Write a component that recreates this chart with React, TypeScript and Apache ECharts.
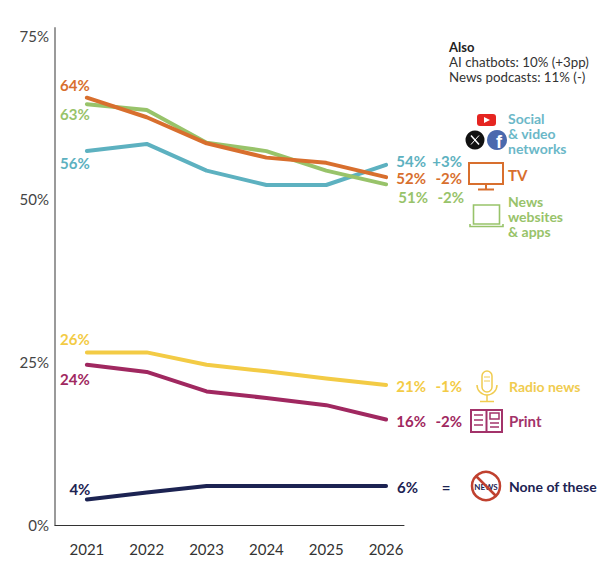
import React, { useEffect, useRef } from "react";
import * as echarts from "echarts";

const years = [2021, 2022, 2023, 2024, 2025, 2026];
const yTicks = [0, 25, 50, 75];

const tvValues = [65.6, 62.6, 58.6, 56.4, 55.6, 53.4];
const webValues = [64.6, 63.7, 58.7, 57.4, 54.4, 52.3];
const socialValues = [57.4, 58.5, 54.4, 52.2, 52.2, 55.3];
const radioValues = [26.5, 26.5, 24.6, 23.6, 22.5, 21.5];
const printValues = [24.6, 23.5, 20.5, 19.5, 18.4, 16.2];
const noneValues = [3.9, 5.0, 6.0, 6.0, 6.0, 6.0];

const seriesNames = ["TV", "News websites & apps", "Social & video networks", "Radio news", "Print", "None of these"];
const startLabels = ["64%", "63%", "56%", "26%", "24%", "4%"];
const endLabels = ["52%", "51%", "54%", "21%", "16%", "6%"];
const changeLabels = ["-2%", "-2%", "+3%", "-1%", "-2%", "="];
const legendTexts = ["TV", "News\nwebsites\n& apps", "Social\n& video\nnetworks", "Radio news", "Print", "None of these"];
const alsoTitle = "Also";
const alsoLines = ["AI chatbots: 10% (+3pp)", "News podcasts: 11% (-)"];

const FONT = "Lato, 'Noto Sans', sans-serif";
const colors = ["#D86F2E", "#98C36A", "#5DB1C0", "#F3CB45", "#A02860", "#1C2352"];
const legendColors = ["#D86F2E", "#98C36A", "#6BB8C8", "#F0CC50", "#A3336A", "#1C2352"];

const allValues = [tvValues, webValues, socialValues, radioValues, printValues, noneValues];
const startOffsets: number[][] = [[-12, -13], [-12, 10], [-12, 12], [-12, -13], [-12, 14], [-7, -11]];
const endOffsets: number[][] = [[3, 1], [5, 13], [3, -4], [3, 1], [3, 2], [3, 1]];

function buildSeries() {
  return allValues.map((vals, i) => {
    const color = colors[i];
    const last = vals.length - 1;
    const changeStyle = changeLabels[i] === "=" ? "e" : "c";
    const base = { color, fontFamily: FONT, fontSize: 15, fontWeight: "bold", lineHeight: 13 };
    return {
      type: "line",
      name: seriesNames[i],
      symbol: "circle",
      symbolSize: 2,
      showSymbol: true,
      z: 10 - i,
      itemStyle: { color },
      lineStyle: { color, width: 4, cap: "round", join: "round" },
      data: vals.map((v, j) => {
        const item: any = { value: [years[j], v] };
        if (j === 0) {
          item.label = {
            show: true,
            position: "inside",
            offset: startOffsets[i],
            align: "center",
            verticalAlign: "middle",
            formatter: startLabels[i],
            ...base,
          };
        } else if (j === last) {
          item.label = {
            show: true,
            position: "inside",
            offset: endOffsets[i],
            align: "left",
            verticalAlign: "middle",
            formatter: `{v|${endLabels[i]}}{${changeStyle}|${changeLabels[i]}}`,
            lineHeight: 13,
            rich: {
              v: { width: 37, align: "right", ...base },
              c: { width: 36, align: "right", ...base },
              e: { width: 40, align: "center", ...base },
            },
          };
        } else {
          item.label = { show: false };
        }
        return item;
      }),
    };
  });
}

function txt(x: number, y: number, text: string, fill: string, size: number, weight: string, lineHeight?: number) {
  return {
    type: "text",
    x,
    y,
    z: 100,
    style: {
      text,
      fill,
      fontFamily: FONT,
      fontSize: size,
      fontWeight: weight,
      lineHeight: lineHeight || size + 2,
      textAlign: "left",
      textVerticalAlign: "middle",
      align: "left",
      verticalAlign: "middle",
    },
  };
}

function buildGraphics() {
  const [tv, web, social, radio, print, none] = legendColors;
  const sw = 2;
  const LS = 14;
  return [
    // Also box
    txt(449, 47, alsoTitle, "#222", 13, "bold"),
    txt(449, 62, alsoLines[0], "#333", 13.3, "normal"),
    txt(449, 77, alsoLines[1], "#333", 13.3, "normal"),

    // Social icons
    { type: "rect", shape: { x: 477, y: 114, width: 19, height: 12, r: 3 }, style: { fill: "#E52521" } },
    { type: "polygon", shape: { points: [[484, 117], [484, 123], [490, 120]] }, style: { fill: "#fff" } },
    { type: "circle", shape: { cx: 475, cy: 140, r: 9.5 }, style: { fill: "#111" } },
    { type: "line", shape: { x1: 471, y1: 135.5, x2: 479, y2: 144.5 }, style: { stroke: "#fff", lineWidth: 1.5 } },
    { type: "line", shape: { x1: 479, y1: 135.5, x2: 471, y2: 144.5 }, style: { stroke: "#fff", lineWidth: 1 } },
    { type: "circle", shape: { cx: 497, cy: 140, r: 10 }, style: { fill: "#4A69AE" } },
    {
      type: "text", x: 499, y: 151, z: 100,
      style: { text: "f", fill: "#fff", fontFamily: "Arial, 'Liberation Sans', sans-serif", fontSize: 18, fontWeight: "bold", textAlign: "center", textVerticalAlign: "bottom", align: "center", verticalAlign: "bottom" },
    },
    txt(508, 118, "Social", social, LS, "bold", 15),
    txt(508, 133, "& video", social, LS, "bold", 15),
    txt(508, 148, "networks", social, LS, "bold", 15),

    // TV icon
    { type: "rect", shape: { x: 469, y: 163, width: 34, height: 21 }, style: { fill: "none", stroke: tv, lineWidth: sw } },
    { type: "line", shape: { x1: 486, y1: 184, x2: 486, y2: 189 }, style: { stroke: tv, lineWidth: sw } },
    { type: "line", shape: { x1: 478, y1: 189.5, x2: 494, y2: 189.5 }, style: { stroke: tv, lineWidth: sw } },
    txt(508, 175, legendTexts[0], tv, 15, "bold"),

    // Laptop icon
    { type: "rect", shape: { x: 473.5, y: 205, width: 26, height: 19 }, style: { fill: "none", stroke: web, lineWidth: 1.6 } },
    { type: "polyline", shape: { points: [[470, 224], [470, 226.5], [503, 226.5], [503, 224]] }, style: { fill: "none", stroke: web, lineWidth: 1.6 } },
    txt(508, 201, "News", web, LS, "bold", 15),
    txt(508, 216, "websites", web, LS, "bold", 15),
    txt(508, 231, "& apps", web, LS, "bold", 15),

    // Microphone icon
    { type: "rect", shape: { x: 482, y: 371, width: 10, height: 21, r: 5 }, style: { fill: "none", stroke: radio, lineWidth: 1.5 } },
    { type: "line", shape: { x1: 484, y1: 377, x2: 490, y2: 377 }, style: { stroke: radio, lineWidth: 1 } },
    { type: "line", shape: { x1: 484, y1: 381, x2: 490, y2: 381 }, style: { stroke: radio, lineWidth: 1 } },
    { type: "arc", shape: { cx: 487, cy: 385, r: 10, startAngle: 0, endAngle: Math.PI, clockwise: true }, style: { fill: "none", stroke: radio, lineWidth: 1.5 } },
    { type: "line", shape: { x1: 487, y1: 395, x2: 487, y2: 401 }, style: { stroke: radio, lineWidth: 1.5 } },
    { type: "line", shape: { x1: 480, y1: 401.5, x2: 494, y2: 401.5 }, style: { stroke: radio, lineWidth: 1.5 } },
    txt(509, 386, legendTexts[3], radio, LS, "bold"),

    // Print icon
    { type: "rect", shape: { x: 471, y: 410, width: 31, height: 22 }, style: { fill: "none", stroke: print, lineWidth: sw } },
    { type: "line", shape: { x1: 486.5, y1: 410, x2: 486.5, y2: 432 }, style: { stroke: print, lineWidth: sw } },
    { type: "line", shape: { x1: 474, y1: 415, x2: 483, y2: 415 }, style: { stroke: print, lineWidth: 1.5 } },
    { type: "line", shape: { x1: 474, y1: 420, x2: 483, y2: 420 }, style: { stroke: print, lineWidth: 1.5 } },
    { type: "line", shape: { x1: 474, y1: 425, x2: 483, y2: 425 }, style: { stroke: print, lineWidth: 1.5 } },
    { type: "rect", shape: { x: 490, y: 413, width: 9, height: 6 }, style: { fill: "none", stroke: print, lineWidth: 1.5 } },
    { type: "line", shape: { x1: 490, y1: 423, x2: 499, y2: 423 }, style: { stroke: print, lineWidth: 1.5 } },
    { type: "line", shape: { x1: 490, y1: 427, x2: 499, y2: 427 }, style: { stroke: print, lineWidth: 1.5 } },
    txt(509, 421, legendTexts[4], print, 15, "bold"),

    // None icon
    {
      type: "text", x: 486, y: 487, z: 100,
      style: { text: "NEWS", fill: none, fontFamily: FONT, fontSize: 8, fontWeight: "bold", textAlign: "center", textVerticalAlign: "middle", align: "center", verticalAlign: "middle" },
    },
    { type: "circle", z: 101, shape: { cx: 486, cy: 486, r: 14 }, style: { fill: "none", stroke: "#C0412F", lineWidth: 2.5 } },
    { type: "line", z: 101, shape: { x1: 476, y1: 476, x2: 496, y2: 496 }, style: { stroke: "#C0412F", lineWidth: 2.5 } },
    txt(509, 486, legendTexts[5], none, LS, "bold"),
  ];
}

export default function App() {
  const ref = useRef<HTMLDivElement>(null);
  useEffect(() => {
    document.body.style.margin = "0";
    if (!ref.current) return;
    const chart = echarts.init(ref.current, undefined, { renderer: "svg" });
    chart.setOption({
      animation: false,
      backgroundColor: "#fff",
      textStyle: { fontFamily: FONT },
      grid: { left: 55, right: 210, top: 28, bottom: 41, containLabel: false },
      xAxis: {
        type: "value",
        min: 2020.467,
        max: 2026.3,
        splitLine: { show: false },
        axisLine: { show: true, lineStyle: { color: "#333", width: 1 } },
        axisTick: { show: false },
        axisLabel: {
          customValues: years,
          formatter: (v: number) => String(v),
          color: "#333",
          fontFamily: FONT,
          fontSize: 15,
          margin: 16,
        },
      },
      yAxis: {
        type: "value",
        min: 0,
        max: 76.3,
        splitLine: { show: false },
        axisLine: { show: true, lineStyle: { color: "#9a9a9a", width: 2 } },
        axisTick: { show: false },
        axisLabel: {
          customValues: yTicks,
          formatter: (v: number) => `${v}%`,
          color: "#444",
          fontFamily: FONT,
          fontSize: 15,
          margin: 6,
        },
      },
      series: buildSeries(),
      graphic: buildGraphics(),
    });
    return () => chart.dispose();
  }, []);
  return <div ref={ref} style={{ width: 614, height: 566 }} />;
}
